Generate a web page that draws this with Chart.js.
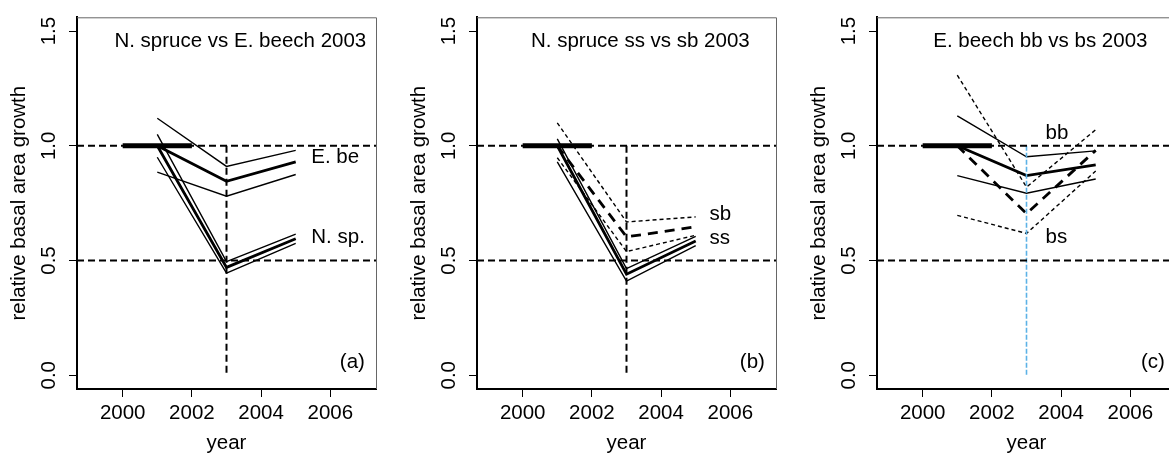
<!DOCTYPE html>
<html>
<head>
<meta charset="utf-8">
<script src="https://cdn.jsdelivr.net/npm/chart.js@4/dist/chart.umd.min.js"></script>
<style>
  html, body { margin: 0; padding: 0; background: #fff; }
  #wrap { position: relative; width: 1169px; height: 456px; overflow: hidden; }
  canvas { position: absolute; top: 0; }
</style>
</head>
<body>
<div id="wrap">
  <canvas id="pa" width="400" height="456" style="left:0px"></canvas>
  <canvas id="pb" width="400" height="456" style="left:400px"></canvas>
  <canvas id="pc" width="400" height="456" style="left:800px"></canvas>
</div>
<script>
// years of the measured lines and of the reference period
const years = [2001, 2003, 2005];
const baseYears = [2000, 2002];
const dryYear = 2003;
const xTicks = [2000, 2002, 2004, 2006];
const yTicks = [0, 0.5, 1.0, 1.5];
const xMin = 1998.68, xMax = 2007.32;
const yMin = -0.06, yMax = 1.56;

// (a) N. spruce vs E. beech
const aBeechHigh = [1.12, 0.91, 0.98];
const aBeechMean = [1.00, 0.845, 0.93];
const aBeechLow = [0.885, 0.78, 0.875];
const aSpruceHigh = [1.05, 0.495, 0.615];
const aSpruceMean = [1.00, 0.47, 0.595];
const aSpruceLow = [0.95, 0.445, 0.575];

// (b) N. spruce ss vs sb
const bSsHigh = [1.03, 0.465, 0.605];
const bSsMean = [1.00, 0.44, 0.585];
const bSsLow = [0.93, 0.41, 0.565];
const bSbHigh = [1.10, 0.668, 0.69];
const bSbMean = [1.00, 0.603, 0.647];
const bSbLow = [0.948, 0.539, 0.61];

// (c) E. beech bb vs bs
const cBbHigh = [1.13, 0.952, 0.978];
const cBbMean = [1.00, 0.87, 0.917];
const cBbLow = [0.87, 0.793, 0.855];
const cBsHigh = [1.308, 0.82, 1.07];
const cBsMean = [1.00, 0.704, 0.98];
const cBsLow = [0.697, 0.618, 0.89];

const FONT = '"Liberation Sans", Arial, sans-serif';
const FSIZE = 20.5;

function line(xs, ys, width, dash, color) {
  return {
    data: xs.map((x, i) => ({ x: x, y: ys[i] })),
    borderColor: color || '#000',
    borderWidth: width,
    borderDash: dash || [],
    pointRadius: 0,
    tension: 0,
    fill: false
  };
}

// dashed reference lines + thick reference period
function refLines(vColor) {
  return [
    line([xMin, xMax], [1, 1], 2, [7, 4]),
    line([xMin, xMax], [0.5, 0.5], 2, [7, 4]),
    line([dryYear, dryYear], [1, 0], vColor ? 1.6 : 2, vColor ? [5, 2] : [7, 4], vColor),
    line(baseYears, [1, 1], 5)
  ];
}

// top and right edge of the box, thinner than the axes
const boxPlugin = {
  id: 'box',
  afterDraw(chart) {
    const a = chart.chartArea, c = chart.ctx;
    c.save();
    c.strokeStyle = '#666';
    c.lineWidth = 1;
    c.beginPath();
    c.moveTo(a.left, a.top + 0.5);
    c.lineTo(a.right + 0.5, a.top + 0.5);
    c.lineTo(a.right + 0.5, a.bottom);
    c.stroke();
    c.restore();
  }
};

// free text drawn at data coordinates
const textPlugin = {
  id: 'texts',
  afterDatasetsDraw(chart, args, opts) {
    const c = chart.ctx, xs = chart.scales.x, ys = chart.scales.y;
    c.save();
    c.fillStyle = '#000';
    c.font = FSIZE + 'px ' + FONT;
    c.textBaseline = 'middle';
    (opts.items || []).forEach(t => {
      c.textAlign = t.align || 'left';
      c.fillText(t.text, xs.getPixelForValue(t.x), ys.getPixelForValue(t.y));
    });
    c.restore();
  }
};

function makeChart(id, datasets, texts) {
  return new Chart(document.getElementById(id), {
    type: 'line',
    data: { datasets: datasets },
    plugins: [boxPlugin, textPlugin],
    options: {
      responsive: false,
      animation: false,
      layout: { padding: { top: 12, right: 24, left: 0, bottom: 0 } },
      plugins: { legend: { display: false }, tooltip: { enabled: false }, texts: { items: texts } },
      scales: {
        x: {
          type: 'linear', min: xMin, max: xMax,
          afterBuildTicks: s => { s.ticks = xTicks.map(v => ({ value: v })); },
          afterFit: s => { s.height = 67; },
          grid: { drawOnChartArea: false, drawTicks: true, tickLength: 8, color: '#000', lineWidth: 1 },
          border: { display: true, color: '#000', width: 2 },
          ticks: { color: '#000', font: { family: FONT, size: FSIZE }, padding: 4, maxRotation: 0, callback: v => String(v) },
          title: { display: true, text: 'year', color: '#000', font: { family: FONT, size: FSIZE }, padding: { top: 0, bottom: 0 } }
        },
        y: {
          type: 'linear', min: yMin, max: yMax,
          afterBuildTicks: s => { s.ticks = yTicks.map(v => ({ value: v })); },
          afterFit: s => { s.width = 77; },
          grid: { drawOnChartArea: false, drawTicks: true, tickLength: 8, color: '#000', lineWidth: 1 },
          border: { display: true, color: '#000', width: 2 },
          ticks: { color: '#000', font: { family: FONT, size: FSIZE }, padding: 5, minRotation: 90, maxRotation: 90, crossAlign: 'center', callback: v => v.toFixed(1) },
          title: { display: true, text: 'relative basal area growth', color: '#000', font: { family: FONT, size: FSIZE }, padding: { top: 7, bottom: 0 } }
        }
      }
    }
  });
}

makeChart('pa', refLines().concat([
  line(years, aBeechHigh, 1.4),
  line(years, aBeechMean, 2.8),
  line(years, aBeechLow, 1.4),
  line(years, aSpruceHigh, 1.4),
  line(years, aSpruceMean, 2.8),
  line(years, aSpruceLow, 1.4)
]), [
  { text: 'N. spruce vs E. beech 2003', x: 2003.4, y: 1.457, align: 'center' },
  { text: 'E. be', x: 2005.45, y: 0.95 },
  { text: 'N. sp.', x: 2005.45, y: 0.6 },
  { text: '(a)', x: 2007.0, y: 0.056, align: 'right' }
]);

makeChart('pb', refLines().concat([
  line(years, bSsHigh, 1.4),
  line(years, bSsMean, 2.8),
  line(years, bSsLow, 1.4),
  line(years, bSbHigh, 1.4, [4, 3]),
  line(years, bSbMean, 2.8, [10, 7]),
  line(years, bSbLow, 1.4, [4, 3])
]), [
  { text: 'N. spruce ss vs sb 2003', x: 2003.4, y: 1.457, align: 'center' },
  { text: 'sb', x: 2005.4, y: 0.7 },
  { text: 'ss', x: 2005.4, y: 0.595 },
  { text: '(b)', x: 2007.0, y: 0.056, align: 'right' }
]);

makeChart('pc', refLines('#5cb2e6').concat([
  line(years, cBbHigh, 1.4),
  line(years, cBbMean, 2.8),
  line(years, cBbLow, 1.4),
  line(years, cBsHigh, 1.4, [4, 3]),
  line(years, cBsMean, 2.8, [10, 7]),
  line(years, cBsLow, 1.4, [4, 3])
]), [
  { text: 'E. beech bb vs bs 2003', x: 2003.4, y: 1.457, align: 'center' },
  { text: 'bb', x: 2003.55, y: 1.056 },
  { text: 'bs', x: 2003.55, y: 0.6 },
  { text: '(c)', x: 2007.0, y: 0.056, align: 'right' }
]);
</script>
</body>
</html>
